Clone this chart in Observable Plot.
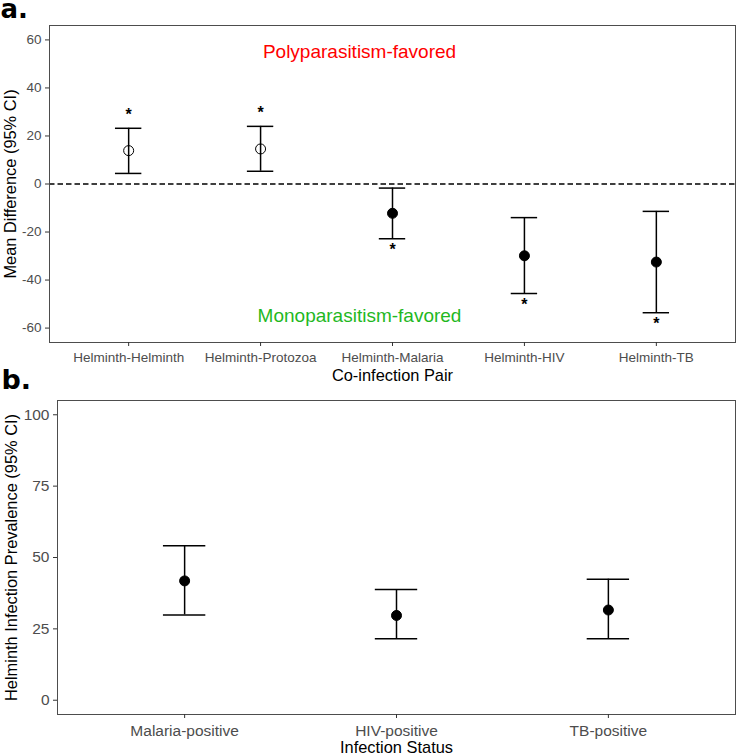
<!DOCTYPE html>
<html>
<head>
<meta charset="utf-8">
<script src="https://cdn.jsdelivr.net/npm/d3@7"></script>
<script src="https://cdn.jsdelivr.net/npm/@observablehq/plot@0.6"></script>
<style>
  html, body { margin: 0; padding: 0; background: #fff; }
  #wrap { position: relative; width: 736px; height: 755px; overflow: hidden; }
  #panelA { position: absolute; left: 0; top: 0; }
  #panelB { position: absolute; left: 0; top: 385px; }
  #tags { position: absolute; left: 0; top: 0; pointer-events: none; }
</style>
</head>
<body>
<div id="wrap">
  <div id="panelA"></div>
  <div id="panelB"></div>
  <svg id="tags" width="736" height="755">
    <text x="0.5" y="18" font-family="DejaVu Sans, sans-serif" font-weight="bold" font-size="26" fill="#000">a.</text>
    <text x="1.5" y="389" font-family="DejaVu Sans, sans-serif" font-weight="bold" font-size="27" fill="#000">b.</text>
  </svg>
</div>
<script>
// ---------- Panel a data ----------
const pairs = ["Helminth-Helminth", "Helminth-Protozoa", "Helminth-Malaria", "Helminth-HIV", "Helminth-TB"];
const meanDiff = [13.9, 14.6, -12.2, -29.9, -32.5];
const lowerCI = [4.4, 5.3, -22.8, -45.6, -53.6];
const upperCI = [23.2, 24.0, -1.7, -14.0, -11.4];
const significant = [true, true, true, true, true];
const yTicksA = [-60, -40, -20, 0, 20, 40, 60];
const annotationLabels = ["Polyparasitism-favored", "Monoparasitism-favored"];
const annotationX = [2.75, 2.75];
const annotationY = [55, -55];
const annotationColors = ["#ff0000", "#1fb81f"];

// ---------- Panel b data ----------
const statuses = ["Malaria-positive", "HIV-positive", "TB-positive"];
const prevalence = [41.8, 29.7, 31.6];
const prevLower = [29.9, 21.5, 21.5];
const prevUpper = [54.1, 38.8, 42.4];
const yTicksB = [0, 25, 50, 75, 100];

const FONT = '"Liberation Sans", Arial, Helvetica, sans-serif';
const capHalf = 0.1;

// ---------- Panel a ----------
const rowsA = pairs.map((p, i) => ({pos: i + 1, pair: p, mean: meanDiff[i], lo: lowerCI[i], hi: upperCI[i], sig: significant[i]}));
const posA = rowsA.map(d => d.pos);
const openA = rowsA.filter(d => d.mean > 0);
const filledA = rowsA.filter(d => d.mean <= 0);
const starsAbove = rowsA.filter(d => d.sig && d.mean > 0);
const starsBelow = rowsA.filter(d => d.sig && d.mean < 0);
const annotations = annotationLabels.map((t, i) => ({label: t, x: annotationX[i], y: annotationY[i], color: annotationColors[i]}));

const plotA = Plot.plot({
  width: 736, height: 385,
  marginLeft: 49, marginRight: 1, marginTop: 25, marginBottom: 43,
  style: {fontFamily: FONT, fontSize: "13.5px", background: "#fff"},
  x: {type: "linear", domain: [0.4, 5.6]},
  y: {type: "linear", domain: [-66, 66]},
  marks: [
    Plot.ruleY([0], {stroke: "#000", strokeWidth: 1.3, strokeDasharray: "5.5,3"}),
    Plot.ruleX(rowsA, {x: "pos", y1: "lo", y2: "hi", stroke: "#000", strokeWidth: 1.5}),
    Plot.ruleY(rowsA, {y: "hi", x1: d => d.pos - capHalf, x2: d => d.pos + capHalf, stroke: "#000", strokeWidth: 1.5}),
    Plot.ruleY(rowsA, {y: "lo", x1: d => d.pos - capHalf, x2: d => d.pos + capHalf, stroke: "#000", strokeWidth: 1.5}),
    Plot.dot(openA, {x: "pos", y: "mean", r: 5, fill: "none", stroke: "#000", strokeWidth: 1}),
    Plot.dot(filledA, {x: "pos", y: "mean", r: 5, fill: "#000", stroke: "#000", strokeWidth: 1}),
    Plot.text(starsAbove, {x: "pos", y: "hi", text: () => "*", dy: -13, fontSize: 16, fontWeight: "bold", fill: "#000"}),
    Plot.text(starsBelow, {x: "pos", y: "lo", text: () => "*", dy: 11, fontSize: 16, fontWeight: "bold", fill: "#000"}),
    Plot.text(annotations, {x: "x", y: "y", text: "label", fill: "color", fontSize: 19}),
    Plot.frame({stroke: "#4d4d4d"}),
    Plot.axisY({ticks: yTicksA, tickFormat: d => String(d), tickSize: 4, tickPadding: 4, stroke: "#333", fill: "#4d4d4d", label: null}),
    Plot.axisX({ticks: posA, tickFormat: i => pairs[i - 1], tickSize: 4, tickPadding: 5.5, stroke: "#333", fill: "#4d4d4d", label: null}),
    Plot.text(["Co-infection Pair"], {frameAnchor: "bottom", textAnchor: "middle", lineAnchor: "middle", dy: 33, fontSize: 16.4, fill: "#000"}),
    Plot.text(["Mean Difference (95% CI)"], {frameAnchor: "left", textAnchor: "middle", lineAnchor: "middle", rotate: -90, dx: -39, fontSize: 16.4, fill: "#000"})
  ]
});
document.getElementById("panelA").appendChild(plotA);

// ---------- Panel b ----------
const rowsB = statuses.map((s, i) => ({pos: i + 1, status: s, val: prevalence[i], lo: prevLower[i], hi: prevUpper[i]}));
const posB = rowsB.map(d => d.pos);

const plotB = Plot.plot({
  width: 736, height: 370,
  marginLeft: 57, marginRight: 1, marginTop: 15, marginBottom: 41,
  style: {fontFamily: FONT, fontSize: "15.5px", background: "#fff"},
  x: {type: "linear", domain: [0.4, 3.6]},
  y: {type: "linear", domain: [-5, 105]},
  marks: [
    Plot.ruleX(rowsB, {x: "pos", y1: "lo", y2: "hi", stroke: "#000", strokeWidth: 1.5}),
    Plot.ruleY(rowsB, {y: "hi", x1: d => d.pos - capHalf, x2: d => d.pos + capHalf, stroke: "#000", strokeWidth: 1.5}),
    Plot.ruleY(rowsB, {y: "lo", x1: d => d.pos - capHalf, x2: d => d.pos + capHalf, stroke: "#000", strokeWidth: 1.5}),
    Plot.dot(rowsB, {x: "pos", y: "val", r: 5, fill: "#000", stroke: "#000", strokeWidth: 1}),
    Plot.frame({stroke: "#4d4d4d"}),
    Plot.axisY({ticks: yTicksB, tickFormat: d => String(d), tickSize: 4, tickPadding: 4, stroke: "#333", fill: "#4d4d4d", label: null}),
    Plot.axisX({ticks: posB, tickFormat: i => statuses[i - 1], tickSize: 4, tickPadding: 6, stroke: "#333", fill: "#4d4d4d", label: null}),
    Plot.text(["Infection Status"], {frameAnchor: "bottom", textAnchor: "middle", lineAnchor: "middle", dy: 33.4, fontSize: 16.4, fill: "#000"}),
    Plot.text(["Helminth Infection Prevalence (95% CI)"], {frameAnchor: "left", textAnchor: "middle", lineAnchor: "middle", rotate: -90, dx: -46, fontSize: 16.4, fill: "#000"})
  ]
});
document.getElementById("panelB").appendChild(plotB);
</script>
</body>
</html>
